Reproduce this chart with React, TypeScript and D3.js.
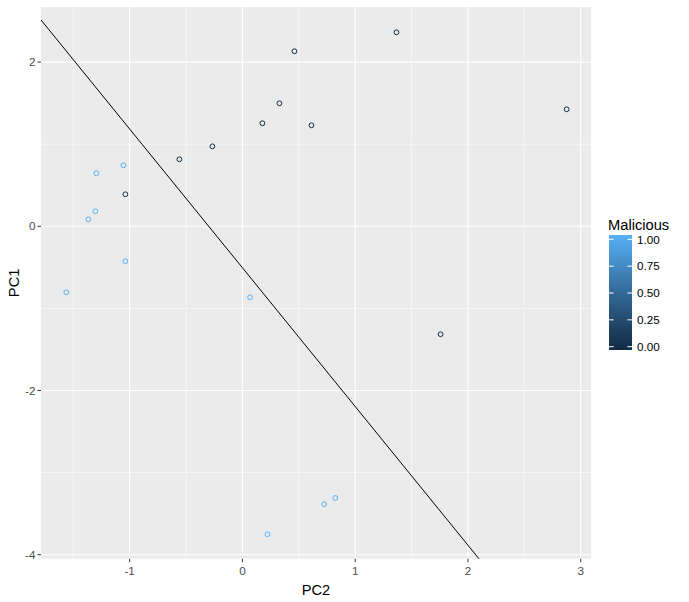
import React from "react";
import * as d3 from "d3";

const pc2 = [-1.562, -1.366, -1.304, -1.295, -1.056, -1.038, -1.038, -0.559, -0.266, 0.068, 0.177, 0.328, 0.461, 0.612, 1.366, 2.875, 1.757, 0.725, 0.823, 0.222];
const pc1 = [-0.804, 0.085, 0.183, 0.646, 0.743, 0.39, -0.426, 0.816, 0.974, -0.865, 1.255, 1.498, 2.132, 1.23, 2.363, 1.425, -1.315, -3.386, -3.309, -3.752];
const malicious = [1, 1, 1, 1, 1, 0, 1, 0, 0, 1, 0, 0, 0, 0, 0, 0, 0, 1, 1, 1];
const xTicks = [-1, 0, 1, 2, 3];
const yTicks = [-4, -2, 0, 2];
const xMinor = [-1.5, -0.5, 0.5, 1.5, 2.5];
const yMinor = [-3, -1, 1];
const legendTicks = [0, 0.25, 0.5, 0.75, 1];
const lineIntercept = -0.505;
const lineSlope = -1.69;

const W = 689, H = 602;
const panel = { left: 41, top: 7, right: 591, bottom: 558.7 };
const font = "Liberation Sans, Arial, sans-serif";

export default function App() {
  const x = d3.scaleLinear().domain([-1.786, 3.091]).range([panel.left, panel.right]);
  const y = d3.scaleLinear().domain([-4.049, 2.671]).range([panel.bottom, panel.top]);
  const color = d3.scaleLinear<string>().domain([0, 1]).range(["#132B43", "#56B1F7"]).interpolate(d3.interpolateLab);
  const [x0, x1] = x.domain();
  const lineData: [number, number][] = [[x0, lineIntercept + lineSlope * x0], [x1, lineIntercept + lineSlope * x1]];
  const linePath = d3.line<[number, number]>().x(d => x(d[0])).y(d => y(d[1]))(lineData) || "";

  const barTop = 235, barBottom = 350, barLeft = 609, barW = 23;
  const ly = d3.scaleLinear().domain([0, 1]).range([346.7, 239.3]);
  const gradStops = d3.range(0, 1.0001, 0.1);

  return (
    <svg width={W} height={H} style={{ position: "absolute", left: 0, top: 0 }} fontFamily={font}>
      <defs>
        <clipPath id="pclip">
          <rect x={panel.left} y={panel.top} width={panel.right - panel.left} height={panel.bottom - panel.top} />
        </clipPath>
        <linearGradient id="lg" x1="0" y1="1" x2="0" y2="0">
          {gradStops.map(s => (
            <stop key={s} offset={s} stopColor={color(s)} />
          ))}
        </linearGradient>
      </defs>
      <rect x={0} y={0} width={W} height={H} fill="#fff" />
      <rect x={panel.left} y={panel.top} width={panel.right - panel.left} height={panel.bottom - panel.top} fill="#EBEBEB" />
      {xMinor.map(v => (
        <line key={"xm" + v} x1={x(v)} x2={x(v)} y1={panel.top} y2={panel.bottom} stroke="#fff" strokeWidth={0.55} />
      ))}
      {yMinor.map(v => (
        <line key={"ym" + v} y1={y(v)} y2={y(v)} x1={panel.left} x2={panel.right} stroke="#fff" strokeWidth={0.55} />
      ))}
      {xTicks.map(v => (
        <line key={"xM" + v} x1={x(v)} x2={x(v)} y1={panel.top} y2={panel.bottom} stroke="#fff" strokeWidth={1.1} />
      ))}
      {yTicks.map(v => (
        <line key={"yM" + v} y1={y(v)} y2={y(v)} x1={panel.left} x2={panel.right} stroke="#fff" strokeWidth={1.1} />
      ))}
      <g clipPath="url(#pclip)">
        <path d={linePath} stroke="#000" strokeWidth={1} fill="none" />
        {pc2.map((v, i) => (
          <circle key={i} cx={x(v)} cy={y(pc1[i])} r={2.4} fill="none" stroke={color(malicious[i])} strokeWidth={1} />
        ))}
      </g>
      {xTicks.map(v => (
        <g key={"xt" + v}>
          <line x1={x(v)} x2={x(v)} y1={panel.bottom} y2={panel.bottom + 3.5} stroke="#333" strokeWidth={1} />
          <text x={x(v)} y={panel.bottom + 16} fontSize={11.7} fill="#4D4D4D" textAnchor="middle">{v}</text>
        </g>
      ))}
      {yTicks.map(v => (
        <g key={"yt" + v}>
          <line x1={panel.left - 3.5} x2={panel.left} y1={y(v)} y2={y(v)} stroke="#333" strokeWidth={1} />
          <text x={panel.left - 5.5} y={y(v) + 4.2} fontSize={11.7} fill="#4D4D4D" textAnchor="end">{v}</text>
        </g>
      ))}
      <text x={(panel.left + panel.right) / 2} y={595} fontSize={14.7} textAnchor="middle" fill="#000">PC2</text>
      <text transform={`translate(19,${(panel.top + panel.bottom) / 2}) rotate(-90)`} fontSize={14.7} textAnchor="middle" fill="#000">PC1</text>
      <text x={608} y={230} fontSize={14.7} fill="#000">Malicious</text>
      <rect x={barLeft} y={barTop} width={barW} height={barBottom - barTop} fill="url(#lg)" />
      {legendTicks.map(v => (
        <g key={"lt" + v}>
          <line x1={barLeft} x2={barLeft + 4.6} y1={ly(v)} y2={ly(v)} stroke="#fff" strokeWidth={1} />
          <line x1={barLeft + barW - 4.6} x2={barLeft + barW} y1={ly(v)} y2={ly(v)} stroke="#fff" strokeWidth={1} />
          <text x={637} y={ly(v) + 4.2} fontSize={11.7} fill="#000">{v.toFixed(2)}</text>
        </g>
      ))}
    </svg>
  );
}
